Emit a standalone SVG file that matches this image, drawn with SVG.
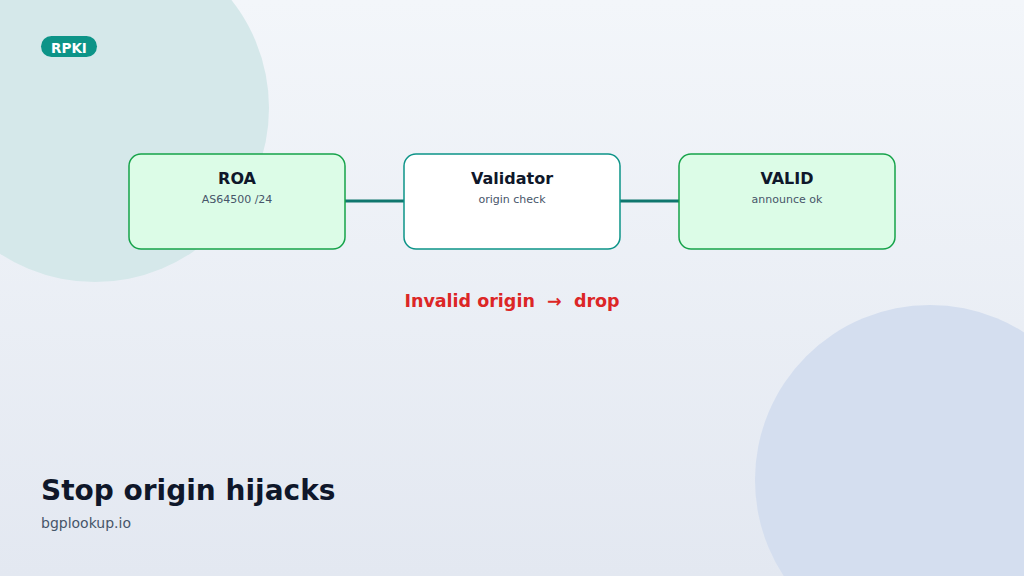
<svg xmlns="http://www.w3.org/2000/svg" width="1024" height="576" viewBox="0 0 1024 576">
<defs>
<linearGradient id="bg" x1="0" y1="0" x2="0" y2="1"><stop offset="0" stop-color="#f3f6fa"/><stop offset="1" stop-color="#e3e8f1"/></linearGradient>
<style>
.t{font-family:"DejaVu Sans",sans-serif;font-weight:bold;font-size:16px;fill:#0f172a;text-anchor:middle}
.s{font-family:"DejaVu Sans",sans-serif;font-size:11px;fill:#475569;text-anchor:middle}
.g{fill:#dcfce7;stroke:#16a34a;stroke-width:1.5}
.w{fill:#ffffff;stroke:#0d9488;stroke-width:1.5}
</style>
</defs>
<rect width="1024" height="576" fill="url(#bg)"/>
<circle cx="95" cy="108" r="174" fill="#d5e8ea"/>
<circle cx="930" cy="480" r="175" fill="#d4deef"/>
<rect x="41" y="36" width="56" height="21" rx="10.5" fill="#0d9488"/>
<text x="69" y="52.5" font-family="DejaVu Sans,sans-serif" font-weight="bold" font-size="13.5" fill="#fff" text-anchor="middle">RPKI</text>
<g id="connectors" stroke="#0f766e" stroke-width="3"><line x1="345" y1="201" x2="404" y2="201"/><line x1="620" y1="201" x2="679" y2="201"/></g>
<g id="roa"><rect class="g" x="129" y="154" width="216" height="95" rx="12"/><text class="t" x="237" y="184">ROA</text><text class="s" x="237" y="203">AS64500 /24</text></g>
<g id="validator"><rect class="w" x="404" y="154" width="216" height="95" rx="12"/><text class="t" x="512" y="184">Validator</text><text class="s" x="512" y="203">origin check</text></g>
<g id="valid"><rect class="g" x="679" y="154" width="216" height="95" rx="12"/><text class="t" x="787" y="184">VALID</text><text class="s" x="787" y="203">announce ok</text></g>
<text x="512" y="307" font-family="DejaVu Sans,sans-serif" font-weight="bold" font-size="17.5" fill="#dc2626" text-anchor="middle" xml:space="preserve">Invalid origin  →  drop</text>
<text x="41" y="500" font-family="DejaVu Sans,sans-serif" font-weight="bold" font-size="28" fill="#0f172a">Stop origin hijacks</text>
<text x="41" y="528" font-family="DejaVu Sans,sans-serif" font-size="14" fill="#475569">bgplookup.io</text>
</svg>
